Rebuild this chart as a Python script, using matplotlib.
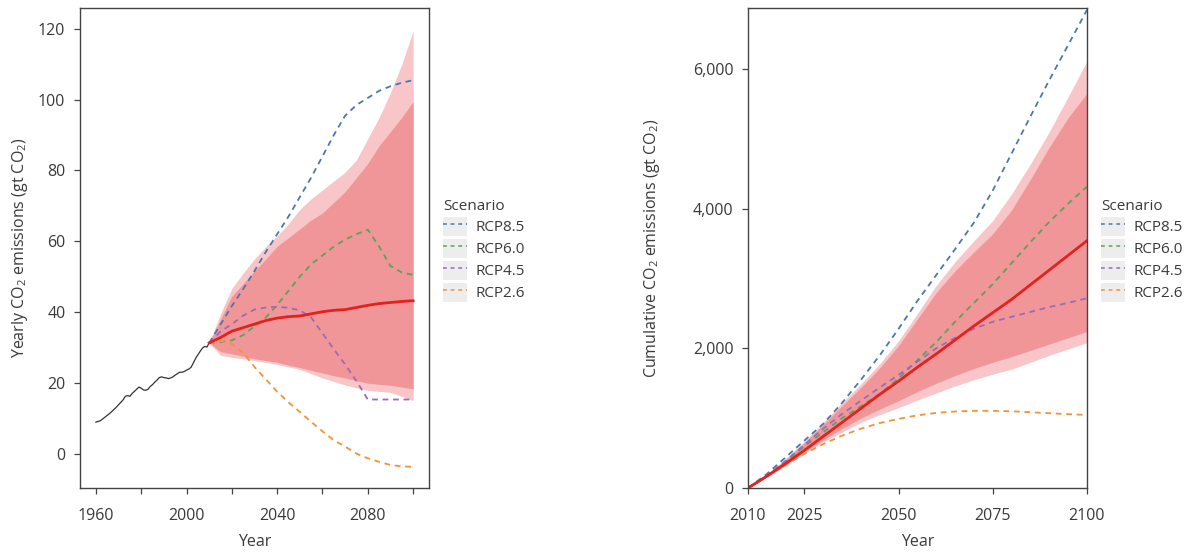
import numpy as np
import matplotlib
matplotlib.use("Agg")
import matplotlib.pyplot as plt
from matplotlib.lines import Line2D
from matplotlib.patches import Patch
from matplotlib.legend_handler import HandlerTuple
from matplotlib.ticker import FuncFormatter

plt.rcParams['font.family'] = ['Open Sans', 'DejaVu Sans']
plt.rcParams['mathtext.default'] = 'regular'

# ---------------- data ----------------
hist_years = list(range(1960, 2011))
hist_vals = [8.9, 9.1, 9.3, 9.8, 10.3, 10.8, 11.3, 11.9, 12.5, 13.1, 13.8, 14.5, 15.2,
             16.2, 16.4, 16.2, 17.0, 17.6, 18.2, 18.8, 18.5, 18.0, 17.9, 18.2, 19.0,
             19.5, 20.2, 20.8, 21.5, 21.7, 21.5, 21.4, 21.2, 21.4, 21.7, 22.2, 22.6,
             23.0, 23.0, 23.2, 23.6, 23.9, 24.4, 25.6, 26.9, 27.9, 28.9, 29.8, 30.3,
             30.1, 31.3]

proj_years = list(range(2010, 2101, 5))

# yearly emissions (gt CO2)
yr_median = [31.3, 32.8, 34.6, 35.6, 36.6, 37.6, 38.3, 38.7, 38.9, 39.5, 40.1, 40.5,
             40.7, 41.3, 41.9, 42.4, 42.7, 43.0, 43.2]
yr_inner_hi = [31.3, 38.0, 44.5, 48.0, 51.6, 55.0, 58.6, 61.0, 63.5, 66.0, 68.0, 71.0,
               74.0, 78.0, 82.0, 87.0, 91.0, 95.0, 99.5]
yr_inner_lo = [31.3, 28.8, 28.2, 27.5, 26.8, 26.3, 25.8, 25.0, 24.3, 23.5, 22.8, 22.0,
               21.4, 20.6, 19.9, 19.6, 19.3, 18.8, 18.3]
yr_outer_hi = [31.3, 39.5, 46.7, 51.0, 55.0, 58.5, 61.5, 65.0, 69.0, 72.0, 74.5, 77.0,
               79.5, 83.0, 89.0, 95.0, 102.0, 110.0, 119.5]
yr_outer_lo = [31.3, 27.8, 27.2, 26.8, 26.3, 25.8, 25.2, 24.5, 23.8, 22.6, 21.4, 20.4,
               19.4, 18.6, 17.9, 17.6, 17.3, 16.2, 15.0]
yr_rcp85 = [31.3, 36.5, 41.7, 46.5, 51.6, 57.0, 62.0, 67.0, 72.5, 78.0, 84.0, 90.0,
            95.5, 98.5, 100.5, 102.5, 103.8, 104.8, 105.5]
yr_rcp60 = [31.3, 31.5, 32.0, 33.5, 36.0, 38.5, 42.0, 46.0, 50.0, 53.5, 56.0, 58.5,
            60.5, 62.0, 63.3, 58.5, 53.0, 51.2, 50.5]
yr_rcp45 = [31.3, 34.5, 36.6, 39.0, 40.7, 41.3, 41.5, 41.2, 40.5, 38.5, 34.0, 29.5,
            25.2, 20.5, 15.3, 15.3, 15.3, 15.3, 15.3]
yr_rcp26 = [31.3, 31.8, 31.0, 28.5, 24.5, 21.0, 17.5, 14.5, 11.8, 9.0, 6.3, 3.8,
            2.0, 0.0, -1.3, -2.3, -3.2, -3.6, -3.7]

# cumulative emissions (gt CO2)
cum_median = [0, 170, 350, 540, 740, 940, 1140, 1340, 1530, 1730, 1920, 2120, 2320,
              2510, 2700, 2910, 3120, 3330, 3540]
cum_inner_hi = [0, 190, 410, 650, 910, 1180, 1440, 1720, 2040, 2420, 2800, 3110, 3380,
                3640, 3980, 4420, 4880, 5300, 5650]
cum_inner_lo = [0, 160, 330, 520, 690, 850, 1000, 1130, 1250, 1380, 1500, 1610, 1710,
                1800, 1880, 1970, 2060, 2150, 2240]
cum_outer_hi = [0, 195, 420, 670, 940, 1220, 1490, 1780, 2110, 2500, 2900, 3240, 3540,
                3830, 4210, 4640, 5100, 5600, 6110]
cum_outer_lo = [0, 155, 320, 500, 660, 800, 940, 1050, 1150, 1260, 1360, 1460, 1550,
                1630, 1700, 1800, 1900, 1990, 2080]
cum_rcp85 = [0, 200, 440, 680, 920, 1220, 1550, 1900, 2280, 2680, 3050, 3420, 3800,
             4260, 4790, 5320, 5840, 6340, 6843]
cum_rcp60 = [0, 170, 380, 600, 800, 1000, 1170, 1350, 1570, 1830, 2090, 2380, 2650,
             2920, 3220, 3520, 3810, 4070, 4314]
cum_rcp45 = [0, 180, 390, 620, 850, 1060, 1250, 1440, 1620, 1810, 2000, 2150, 2280,
             2380, 2450, 2520, 2590, 2650, 2716]
cum_rcp26 = [0, 165, 330, 490, 630, 750, 850, 930, 990, 1040, 1075, 1095, 1105, 1105,
             1098, 1085, 1070, 1057, 1045]

scenario_names = ["RCP8.5", "RCP6.0", "RCP4.5", "RCP2.6"]
scenario_colors = ["#4a78ad", "#5aa35a", "#9a6bb8", "#f39238"]

left_xticks = [1960, 1980, 2000, 2020, 2040, 2060, 2080, 2100]
left_xlabels = ["1960", "", "2000", "", "2040", "", "2080", ""]
left_yticks = [0, 20, 40, 60, 80, 100, 120]
right_xticks = [2010, 2025, 2050, 2075, 2100]
right_yticks = [0, 2000, 4000, 6000]

# ---------------- style ----------------
TXT = "#3a3a3a"
LIGHT = "#f8c6c8"
DARK = "#f19698"
RED = "#e3211e"
dash = (3.2, 2.6)

fig = plt.figure(figsize=(11.89, 5.52), dpi=100)
axL = fig.add_axes([80 / 1189, 1 - 488 / 552, 349 / 1189, 480 / 552])
axR = fig.add_axes([748 / 1189, 1 - 488 / 552, 339 / 1189, 480 / 552])


def style(ax):
    for s in ax.spines.values():
        s.set_color("#444444")
        s.set_linewidth(1.0)
    ax.tick_params(direction="out", length=4.5, width=0.9, color="#444444",
                   labelcolor=TXT, labelsize=11.5)
    ax.tick_params(axis="x", pad=10)
    ax.tick_params(axis="y", pad=6)


# Left panel
axL.fill_between(proj_years, yr_outer_lo, yr_outer_hi, color=LIGHT, lw=0)
axL.fill_between(proj_years, yr_inner_lo, yr_inner_hi, color=DARK, lw=0)
axL.plot(hist_years, hist_vals, color="#333333", lw=0.9)
for vals, c in zip([yr_rcp85, yr_rcp60, yr_rcp45, yr_rcp26], scenario_colors):
    axL.plot(proj_years, vals, color=c, lw=1.3, dashes=dash)
axL.plot(proj_years, yr_median, color=RED, lw=2.0)
axL.set_xlim(1953, 2107)
axL.set_ylim(-9.7, 125.9)
axL.set_xticks(left_xticks)
axL.set_xticklabels(left_xlabels)
axL.set_yticks(left_yticks)
axL.set_xlabel("Year", color=TXT, fontsize=11.5, labelpad=7)
axL.set_ylabel("Yearly CO$_2$ emissions (gt CO$_2$)", color=TXT, fontsize=11.5, labelpad=6)
style(axL)

# Right panel
axR.fill_between(proj_years, cum_outer_lo, cum_outer_hi, color=LIGHT, lw=0)
axR.fill_between(proj_years, cum_inner_lo, cum_inner_hi, color=DARK, lw=0)
for vals, c in zip([cum_rcp85, cum_rcp60, cum_rcp45, cum_rcp26], scenario_colors):
    axR.plot(proj_years, vals, color=c, lw=1.3, dashes=dash)
axR.plot(proj_years, cum_median, color=RED, lw=2.0)
axR.set_xlim(2010, 2100)
axR.set_ylim(0, 6870)
axR.set_xticks(right_xticks)
axR.set_yticks(right_yticks)
axR.yaxis.set_major_formatter(FuncFormatter(lambda v, p: f"{int(v):,}"))
axR.set_xlabel("Year", color=TXT, fontsize=11.5, labelpad=7)
axR.set_ylabel("Cumulative CO$_2$ emissions (gt CO$_2$)", color=TXT, fontsize=11.5, labelpad=22)
style(axR)

# Legends
def make_handles():
    hs = []
    for c in scenario_colors:
        hs.append((Patch(facecolor="#ededed", edgecolor="none"),
                   Line2D([], [], color=c, lw=1.1, dashes=(2.5, 2.5))))
    return hs


for x0 in [443 / 1189, 1101 / 1189]:
    leg = fig.legend(make_handles(), scenario_names, title="Scenario",
                     handler_map={tuple: HandlerTuple(ndivide=1, pad=0)},
                     loc="center left", bbox_to_anchor=(x0, 1 - 250 / 552),
                     frameon=False, fontsize=11, title_fontsize=11,
                     handlelength=1.6, handleheight=1.5, handletextpad=0.5,
                     labelspacing=0.22, borderpad=0, borderaxespad=0)
    leg._legend_box.align = "left"
    for t in leg.get_texts():
        t.set_color(TXT)
    leg.get_title().set_color(TXT)

fig.savefig("out.png", dpi=100)
